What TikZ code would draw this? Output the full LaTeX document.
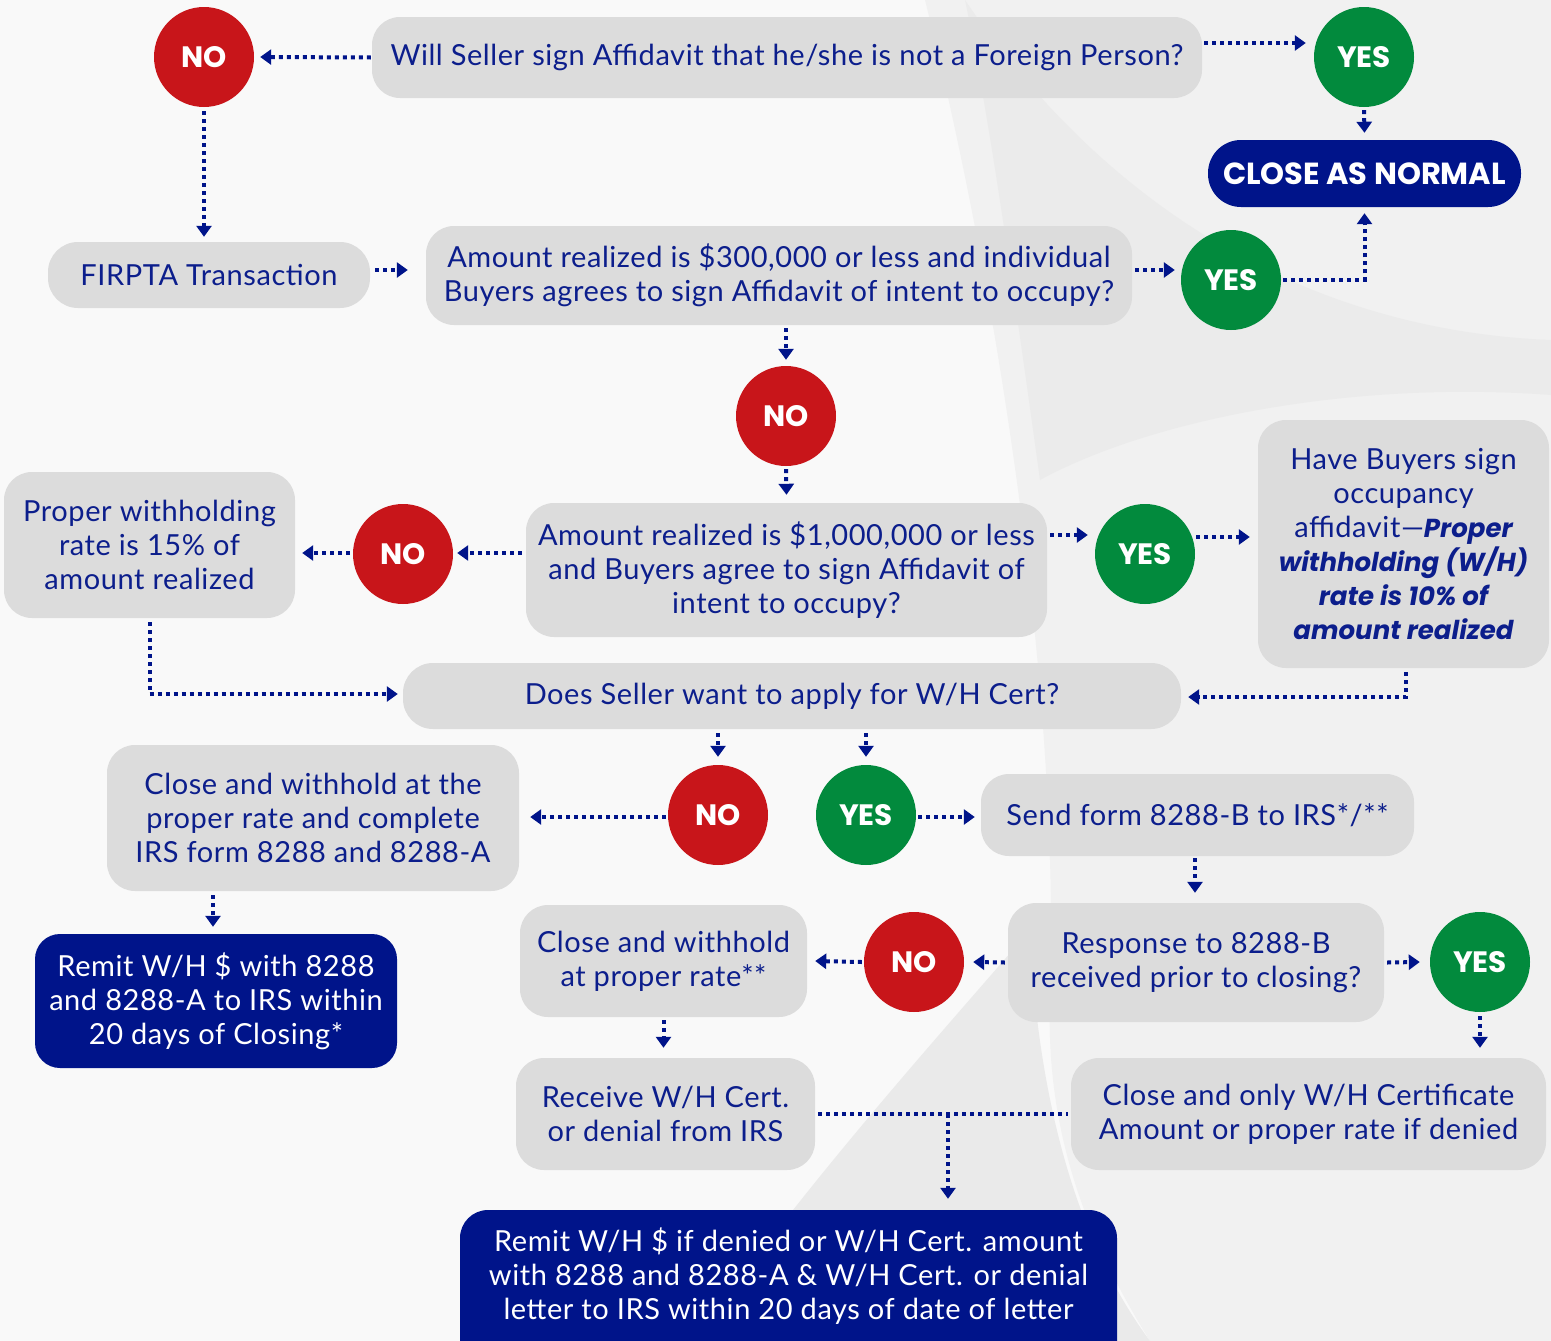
\documentclass[tikz,border=0pt]{standalone}
\usepackage{fontspec}
\setmainfont{Lato}[LetterSpace=2.0]
\newfontfamily\pop{Poppins}
\usetikzlibrary{arrows.meta}
\definecolor{navy}{HTML}{00148A}
\definecolor{txt}{HTML}{0C1E8C}
\definecolor{boxg}{HTML}{DCDCDC}
\definecolor{nored}{HTML}{C8151A}
\definecolor{yesgr}{HTML}{028A3D}
\definecolor{bgA}{HTML}{F9F9F9}
\definecolor{bgB}{HTML}{F1F1F1}
\definecolor{bgC}{HTML}{E8E8E8}
\newcommand\bodyfs{\fontsize{29}{34}\selectfont}
\newcommand\strongit{\pop\bfseries\itshape\fontsize{26}{34}\selectfont}
\begin{document}
\begin{tikzpicture}[x=1pt,y=-1pt,
  gbox/.style={rectangle, rounded corners=28pt, fill=boxg, text=txt, align=center, inner sep=0pt, font=\bodyfs},
  nbox/.style={rectangle, rounded corners=28pt, fill=navy, text=white, align=center, inner sep=0pt, font=\bodyfs},
  dec/.style={circle, minimum size=100pt, inner sep=0pt, text=white, font=\pop\bfseries\fontsize{29.5}{29.5}\selectfont},
  nodot/.style={dec, fill=nored},
  yesdot/.style={dec, fill=yesgr},
  flow/.style={draw=navy, line width=4pt, dash pattern=on 4pt off 4pt, -{Triangle[width=15pt,length=11pt]}},
  plain/.style={draw=navy, line width=4pt, dash pattern=on 4pt off 4pt}
]
\useasboundingbox (0,0) rectangle (1551,1341);
% background
\fill[bgA] (0,0) rectangle (1551,1341);
\fill[bgB] (925,0) .. controls (1000,300) and (1060,700) .. (1050,1000) .. controls (1045,1150) and (1100,1260) .. (1150,1341) -- (1551,1341) -- (1551,0) -- cycle;
\fill[bgC!70!bgB] (965,0) .. controls (1100,200) and (1300,330) .. (1551,340) -- (1551,395) .. controls (1350,380) and (1150,420) .. (1040,480) .. controls (1015,300) and (990,120) .. (965,0) -- cycle;
\fill[bgC!80!bgB] (690,1341) -- (793,1210) .. controls (880,1100) and (970,1000) .. (1030,930) .. controls (1035,1050) and (1060,1220) .. (1150,1341) -- cycle;

% nodes
\node[nodot] (no1) at (204,57) {NO};
\node[gbox, minimum width=830pt, minimum height=81pt] (q1) at (787,57.5) {Will Seller sign Affidavit that he/she is not a Foreign Person?};
\node[yesdot] (yes1) at (1364,57) {YES};
\node[nbox, rounded corners=33pt, minimum width=313pt, minimum height=67pt, font=\pop\bfseries\fontsize{30.5}{30.5}\selectfont] (close) at (1364.5,173.5) {CLOSE AS NORMAL};
\node[gbox, rounded corners=30pt, minimum width=322pt, minimum height=66pt] (firpta) at (209,275) {FIRPTA Transaction};
\node[gbox, minimum width=706pt, minimum height=99pt] (q2) at (779,275.5) {Amount realized is \$300,000 or less and individual\\Buyers agrees to sign Affidavit of intent to occupy?};
\node[yesdot] (yes2) at (1231,280) {YES};
\node[nodot] (no2) at (786,416) {NO};
\node[gbox, minimum width=521pt, minimum height=134pt] (q3) at (786.5,570) {Amount realized is \$1,000,000 or less\\and Buyers agree to sign Affidavit of\\intent to occupy?};
\node[nodot] (no3) at (403,554) {NO};
\node[gbox, minimum width=291pt, minimum height=146pt] (p15) at (149.5,545) {Proper withholding\\rate is 15\% of\\amount realized};
\node[yesdot] (yes3) at (1145,554) {YES};
\node[gbox, minimum width=291pt, minimum height=248pt] (have) at (1403.5,544) {Have Buyers sign\\occupancy\\affidavit---{\strongit Proper}\\{\strongit withholding (W/H)}\\{\strongit rate is 10\% of}\\{\strongit amount realized}};
\node[gbox, rounded corners=30pt, minimum width=778pt, minimum height=66pt] (q4) at (792,696) {Does Seller want to apply for W/H Cert?};
\node[nodot] (no4) at (718,815) {NO};
\node[yesdot] (yes4) at (866,815) {YES};
\node[gbox, minimum width=412pt, minimum height=146pt] (cw) at (313,818) {Close and withhold at the\\proper rate and complete\\IRS form 8288 and 8288-A};
\node[gbox, minimum width=433pt, minimum height=82pt] (send) at (1197.5,815) {Send form 8288-B to IRS*/**};
\node[nbox, rounded corners=25pt, minimum width=362pt, minimum height=134pt] (remitL) at (216,1001) {Remit W/H \$ with 8288\\and 8288-A to IRS within\\20 days of Closing*};
\node[gbox, minimum width=287pt, minimum height=112pt] (cwr) at (663.5,961) {Close and withhold\\at proper rate**};
\node[nodot] (no5) at (914,962) {NO};
\node[gbox, minimum width=376pt, minimum height=119pt] (resp) at (1196,962.5) {Response to 8288-B\\received prior to closing?};
\node[yesdot] (yes5) at (1480,962) {YES};
\node[gbox, minimum width=299pt, minimum height=112pt] (recv) at (665.5,1114) {Receive W/H Cert.\\or denial from IRS};
\node[gbox, minimum width=475pt, minimum height=112pt] (conly) at (1308.5,1114) {Close and only W/H Certificate\\Amount or proper rate if denied};
\node[nbox, minimum width=657pt, minimum height=160pt] (remitB) at (788.5,1290) {};
\node[text=white, align=center, inner sep=0pt, font=\bodyfs] (remitBt) at (788.5,1276) {Remit W/H \$ if denied or W/H Cert. amount\\with 8288 and 8288-A \& W/H Cert. or denial\\letter to IRS within 20 days of date of letter};
\coordinate (j) at (948,1114);

% connectors
\draw[flow] ([xshift=-1pt]q1.west) -- ([xshift=6pt]no1.east);
\draw[flow] ([yshift=-4pt]no1.south) -- ([yshift=5pt]no1.south |- firpta.north);
\draw[flow] ([xshift=2pt,yshift=14.5pt]q1.east) -- ([xshift=-8pt,yshift=14pt]yes1.west);
\draw[flow] ([yshift=-3pt]yes1.south) -- ([yshift=7pt]close.north);
\draw[flow] ([xshift=5pt,yshift=5pt]firpta.east) -- ([xshift=-18pt,yshift=5.5pt]q2.west);
\draw[flow] ([xshift=3pt,yshift=5.5pt]q2.east) -- ([xshift=-6pt,yshift=10pt]yes2.west);
\draw[flow] ([xshift=2pt]yes2.east) -| ([yshift=-6pt]close.south);
\draw[flow] ([yshift=-3pt]no2.north |- q2.south) -- ([yshift=6pt]no2.north);
\draw[flow] ([yshift=-3pt]no2.south) -- ([yshift=8pt]q3.north);
\draw[flow] ([xshift=-4pt,yshift=17pt]q3.west) -- ([xshift=4pt,yshift=1pt]no3.east);
\draw[flow] ([xshift=-3pt,yshift=1pt]no3.west) -- ([xshift=7pt,yshift=-8pt]p15.east);
\draw[flow] ([xshift=3pt,yshift=35pt]q3.east) -- ([xshift=-7pt,yshift=19pt]yes3.west);
\draw[flow] ([xshift=1pt,yshift=17pt]yes3.east) -- ([xshift=-8pt,yshift=7pt]have.west);
\draw[flow] ([yshift=-4pt]p15.south) |- ([xshift=-5pt,yshift=2pt]q4.west);
\draw[flow] ([xshift=2.5pt,yshift=-4pt]have.south) |- ([xshift=7pt,yshift=-1pt]q4.east);
\draw[flow] ([xshift=-74pt,yshift=-4pt]q4.south) -- ([yshift=8pt]no4.north);
\draw[flow] ([xshift=74pt,yshift=-4pt]q4.south) -- ([yshift=8pt]yes4.north);
\draw[flow] ([xshift=-2pt,yshift=-2pt]no4.west) -- ([xshift=11pt,yshift=1pt]cw.east);
\draw[flow] ([xshift=2pt,yshift=-2pt]yes4.east) -- ([xshift=-6pt,yshift=-2pt]send.west);
\draw[flow] ([xshift=-100pt,yshift=-4pt]cw.south) -- ([xshift=-3pt,yshift=7pt]remitL.north);
\draw[flow] ([xshift=-2.5pt,yshift=-2pt]send.south) -- ([xshift=-1pt,yshift=10pt]resp.north);
\draw[flow] ([xshift=-3pt]resp.west) -- ([xshift=9pt]no5.east);
\draw[flow] ([xshift=-2pt]no5.west) -- ([xshift=8pt]cwr.east);
\draw[flow] ([xshift=3pt]resp.east) -- ([xshift=-10pt]yes5.west);
\draw[flow] ([yshift=-4pt]yes5.south) -- ([yshift=10pt]yes5.south |- conly.north);
\draw[flow] ([yshift=-3pt]cwr.south) -- ([yshift=10pt]cwr.south |- recv.north);
\draw[plain] ([xshift=3pt]recv.east) -- ([xshift=-3pt]conly.west);
\draw[flow] (j) -- ([yshift=11pt]j |- remitB.north);
\end{tikzpicture}
\end{document}
